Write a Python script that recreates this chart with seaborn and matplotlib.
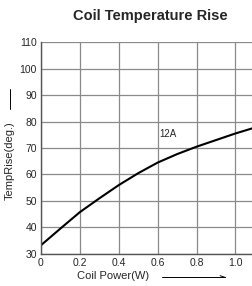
import matplotlib
matplotlib.use('Agg')
import matplotlib.pyplot as plt
import seaborn as sns
import pandas as pd

# --- Data ---
power_w = [0.0, 0.1, 0.2, 0.3, 0.4, 0.5, 0.6, 0.7, 0.8, 0.9, 1.0, 1.09]
temp_rise = [33.3, 39.6, 45.8, 51.0, 56.0, 60.5, 64.5, 67.7, 70.5, 73.0, 75.5, 77.5]
x_ticks = [0, 0.2, 0.4, 0.6, 0.8, 1.0]
x_tick_labels = ['0', '0.2', '0.4', '0.6', '0.8', '1.0']
y_ticks = [30, 40, 50, 60, 70, 80, 90, 100, 110]
curve_label = '12A'

df = pd.DataFrame({'power': power_w, 'temp': temp_rise})

sns.set_style('white')
plt.rcParams['font.family'] = ['Liberation Sans', 'DejaVu Sans']

fig = plt.figure(figsize=(2.53, 2.86), dpi=100)
ax = fig.add_axes([0.162, 0.112, 0.838, 0.741])

sns.lineplot(data=df, x='power', y='temp', color='black', linewidth=1.5, ax=ax)

ax.set_xlim(0, 1.09)
ax.set_ylim(30, 110)
ax.set_xticks(x_ticks)
ax.set_xticklabels(x_tick_labels)
ax.set_yticks(y_ticks)
ax.grid(True, color='#8a8a8a', linewidth=0.9)
ax.tick_params(axis='both', length=0, labelsize=7.5, pad=3)
for s in ['top', 'right']:
    ax.spines[s].set_visible(False)
for s in ['left', 'bottom']:
    ax.spines[s].set_color('#555555')
    ax.spines[s].set_linewidth(1.0)

ax.text(0.61, 74, curve_label, fontsize=7)

ax.set_xlabel('')
ax.set_ylabel('')
fig.text(0.595, 0.968, 'Coil Temperature Rise', ha='center', va='top',
         fontsize=10.5, fontweight='bold')

# axis titles with trailing arrows
fig.text(0.305, 0.035, 'Coil Power(W)', ha='left', va='center', fontsize=8)
fig.add_artist(plt.Line2D([0.64, 0.89], [0.03, 0.03], color='black', linewidth=0.7))
fig.add_artist(plt.Line2D([0.87, 0.89], [0.036, 0.03], color='black', linewidth=0.7))
fig.text(0.04, 0.44, 'TempRise(deg.)', ha='center', va='center', rotation=90, fontsize=8)
fig.add_artist(plt.Line2D([0.04, 0.04], [0.62, 0.69], color='black', linewidth=0.7))

fig.savefig('out.png', dpi=100)
